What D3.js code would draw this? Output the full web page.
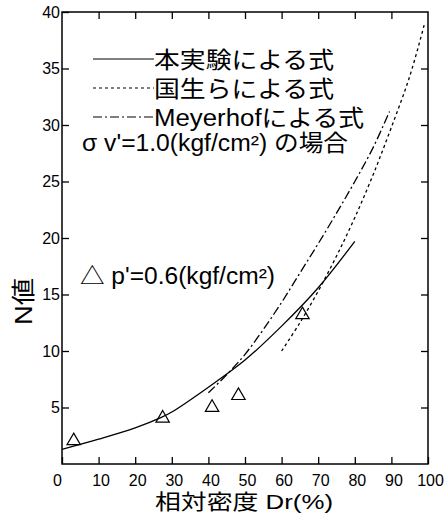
<!DOCTYPE html>
<meta charset="utf-8">
<script src="https://d3js.org/d3.v7.min.js"></script>
<style>
  body { margin: 0; background: #fff; }
  text { font-family: "Liberation Sans", "Noto Sans CJK JP", sans-serif; fill: #000; }
</style>
<div id="chart"></div>
<script>
// data
const solidLine = [[0,1.3],[10,2.2],[20,3.2],[27,4.1],[30,4.6],[40,6.8],[50,9.2],[60,12.2],[70,15.6],[80,19.7]];
const kokuboLine = [[60,10],[65,12.5],[70,15.3],[75,18.4],[80,21.8],[85,25.6],[90,29.8],[95,34.3],[99,38.9]];
const meyerhofLine = [[40,6.3],[45,7.9],[50,9.7],[55,11.9],[60,14.3],[65,16.9],[70,19.5],[75,22.2],[80,25],[85,28],[89.5,31.2]];
const testPoints = [[3.2,2.05],[27.5,4.05],[41,5.0],[48.2,6.05],[65.7,13.2]];
const xTicks = [0,10,20,30,40,50,60,70,80,90,100];
const yTicks = [5,10,15,20,25,30,35,40];
const legendLabels = ["本実験による式", "国生らによる式", "Meyerhofによる式"];

const width = 448, height = 514;
const svg = d3.select("#chart").append("svg")
  .attr("width", width).attr("height", height);

const x = d3.scaleLinear().domain([0, 100]).range([62, 428]);
const y = d3.scaleLinear().domain([0, 40]).range([464, 12]);

// frame
svg.append("rect")
  .attr("x", x(0)).attr("y", y(40))
  .attr("width", x(100) - x(0)).attr("height", y(0) - y(40))
  .attr("fill", "none").attr("stroke", "#000").attr("stroke-width", 1.5);

// inward ticks
const tk = 7;
svg.append("g").attr("transform", `translate(0,${y(0)})`)
  .call(d3.axisBottom(x).tickValues(xTicks).tickSize(-tk).tickSizeOuter(0).tickPadding(tk + 4).tickFormat(d3.format("d")))
  .call(g => g.select(".domain").remove())
  .call(g => g.selectAll("text").attr("font-size", 16).style("font-family", "Liberation Sans")
    .attr("dx", d => d === 0 ? -5 : 2));
svg.append("g").attr("transform", `translate(0,${y(40)})`)
  .call(d3.axisTop(x).tickValues(xTicks.slice(1, -1)).tickSize(-tk).tickSizeOuter(0).tickFormat(""))
  .call(g => g.select(".domain").remove());
svg.append("g").attr("transform", `translate(${x(0)},0)`)
  .call(d3.axisLeft(y).tickValues(yTicks).tickSize(-tk).tickSizeOuter(0).tickPadding(2))
  .call(g => g.select(".domain").remove())
  .call(g => g.selectAll("text").attr("font-size", 16).style("font-family", "Liberation Sans"));
svg.append("g").attr("transform", `translate(${x(100)},0)`)
  .call(d3.axisRight(y).tickValues(yTicks.slice(0, -1)).tickSize(-tk).tickSizeOuter(0).tickFormat(""))
  .call(g => g.select(".domain").remove());
svg.selectAll(".tick line").attr("stroke", "#000").attr("stroke-width", 1.3);

// curves
const line = d3.line().x(d => x(d[0])).y(d => y(d[1])).curve(d3.curveCatmullRom);
const styles = [
  { data: solidLine, dash: null },
  { data: kokuboLine, dash: "3,3" },
  { data: meyerhofLine, dash: "9,3,2,3" }
];
styles.forEach(s => {
  svg.append("path").datum(s.data)
    .attr("d", line)
    .attr("fill", "none").attr("stroke", "#000").attr("stroke-width", 1.3)
    .attr("stroke-dasharray", s.dash);
});

// triangles
const tri = d3.symbol().type(d3.symbolTriangle).size(78);
svg.selectAll(".pt").data(testPoints).join("path")
  .attr("class", "pt")
  .attr("transform", d => `translate(${x(d[0])},${y(d[1])})`)
  .attr("d", tri)
  .attr("fill", "none").attr("stroke", "#000").attr("stroke-width", 1.2);

// legend
const legY = [59, 88, 117];
const legLen = [180, 180, 210];
legendLabels.forEach((lab, i) => {
  svg.append("line")
    .attr("x1", 93).attr("x2", 154).attr("y1", legY[i]).attr("y2", legY[i])
    .attr("stroke", "#000").attr("stroke-width", 1.2)
    .attr("stroke-dasharray", styles[i].dash);
  svg.append("text")
    .attr("x", 154).attr("y", legY[i] + 9)
    .attr("font-size", 23)
    .attr("textLength", legLen[i]).attr("lengthAdjust", "spacingAndGlyphs")
    .text(lab);
});
svg.append("text")
  .attr("x", 82).attr("y", 151)
  .attr("font-size", 23)
  .attr("textLength", 266).attr("lengthAdjust", "spacingAndGlyphs")
  .text("σ v'=1.0(kgf/cm²) の場合");

svg.append("text")
  .attr("x", 80).attr("y", 284)
  .attr("font-size", 23)
  .attr("textLength", 195).attr("lengthAdjust", "spacingAndGlyphs")
  .text("△ p'=0.6(kgf/cm²)");

// axis labels
svg.append("text")
  .attr("x", 155).attr("y", 509)
  .attr("font-size", 21)
  .attr("textLength", 178).attr("lengthAdjust", "spacingAndGlyphs")
  .text("相対密度 Dr(%)");
svg.append("text")
  .attr("transform", "translate(32,325) rotate(-90)")
  .attr("font-size", 24)
  .attr("textLength", 47).attr("lengthAdjust", "spacingAndGlyphs")
  .text("N値");
</script>
